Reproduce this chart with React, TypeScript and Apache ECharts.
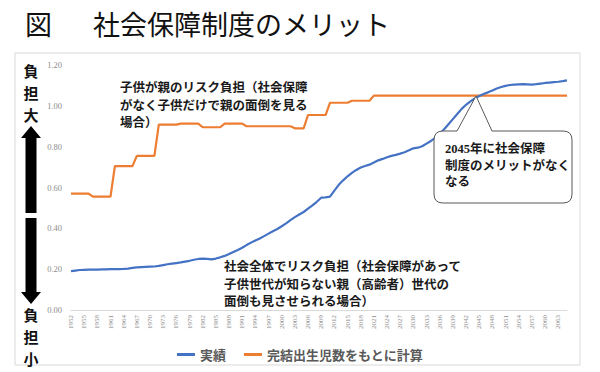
import React, { useEffect, useRef } from "react";
import * as echarts from "echarts";

const years: string[] = [];
for (let y = 1952; y <= 2065; y++) years.push(String(y));

const actual: number[] = [
  0.190, 0.193, 0.196, 0.197, 0.198, 0.198, 0.198, 0.199, 0.199, 0.200, // 1952-1961
  0.200, 0.200, 0.201, 0.203, 0.206, 0.209, 0.210, 0.211, 0.212, 0.213, // 1962-1971
  0.216, 0.220, 0.224, 0.227, 0.230, 0.233, 0.237, 0.241, 0.246, 0.250, // 1972-1981
  0.252, 0.250, 0.248, 0.252, 0.258, 0.265, 0.274, 0.284, 0.294, 0.305, // 1982-1991
  0.318, 0.330, 0.340, 0.350, 0.362, 0.374, 0.386, 0.397, 0.410, 0.424, // 1992-2001
  0.440, 0.455, 0.468, 0.480, 0.496, 0.512, 0.530, 0.550, 0.552, 0.555, // 2002-2011
  0.585, 0.613, 0.635, 0.655, 0.672, 0.686, 0.698, 0.705, 0.712, 0.722, // 2012-2021
  0.733, 0.740, 0.748, 0.755, 0.760, 0.766, 0.773, 0.782, 0.792, 0.795, // 2022-2031
  0.802, 0.815, 0.828, 0.843, 0.862, 0.885, 0.910, 0.935, 0.960, 0.985, // 2032-2041
  1.005, 1.022, 1.036, 1.048, 1.058, 1.066, 1.075, 1.085, 1.092, 1.098, // 2042-2051
  1.102, 1.104, 1.105, 1.106, 1.105, 1.104, 1.106, 1.109, 1.112, 1.114, // 2052-2061
  1.116, 1.118, 1.121, 1.125, // 2062-2065
];

const completed: number[] = [
  0.570, 0.570, 0.570, 0.570, 0.570, 0.555, 0.555, 0.555, 0.555, 0.555, // 1952-1961
  0.705, 0.705, 0.705, 0.705, 0.705, 0.755, 0.755, 0.755, 0.755, 0.755, // 1962-1971
  0.908, 0.908, 0.908, 0.908, 0.908, 0.913, 0.913, 0.913, 0.913, 0.913, // 1972-1981
  0.895, 0.895, 0.895, 0.895, 0.895, 0.913, 0.913, 0.913, 0.913, 0.913, // 1982-1991
  0.900, 0.900, 0.900, 0.900, 0.900, 0.900, 0.900, 0.900, 0.900, 0.900, // 1992-2001
  0.900, 0.890, 0.890, 0.890, 0.955, 0.955, 0.955, 0.955, 0.955, 1.015, // 2002-2011
  1.015, 1.015, 1.015, 1.015, 1.025, 1.025, 1.025, 1.025, 1.025, 1.050, // 2012-2021
  1.050, 1.050, 1.050, 1.050, 1.050, 1.050, 1.050, 1.050, 1.050, 1.050, // 2022-2031
  1.050, 1.050, 1.050, 1.050, 1.050, 1.050, 1.050, 1.050, 1.050, 1.050, // 2032-2041
  1.050, 1.050, 1.050, 1.050, 1.050, 1.050, 1.050, 1.050, 1.050, 1.050, // 2042-2051
  1.050, 1.050, 1.050, 1.050, 1.050, 1.050, 1.050, 1.050, 1.050, 1.050, // 2052-2061
  1.050, 1.050, 1.050, 1.050, // 2062-2065
];

const seriesNames = ["実績", "完結出生児数をもとに計算"];
const titleText = "社会保障制度のメリット";
const sideTop = ["負", "担", "大"];
const sideBottom = ["負", "担", "小"];
const noteTop = ["子供が親のリスク負担（社会保障", "がなく子供だけで親の面倒を見る", "場合）"];
const noteBottom = ["社会全体でリスク負担（社会保障があって", "子供世代が知らない親（高齢者）世代の", "面倒も見させられる場合）"];
const noteCallout = ["2045年に社会保障", "制度のメリットがなく", "なる"];

const CJK = "'Noto Sans CJK JP', 'Noto Sans', sans-serif";
const SERIF = "'Liberation Serif', 'DejaVu Serif', serif";

echarts.graphic.registerShape(
  "callout",
  echarts.graphic.extendPath(
    "M443,131 L457,131 L476,96 L492,131 L563,131 Q572,131 572,140 L572,194 Q572,203 563,203 L443,203 Q434,203 434,194 L434,140 Q434,131 443,131 Z",
    {}
  ) as any
);

function sideChars(chars: string[], centers: number[]) {
  return chars.map((c, i) => ({
    type: "text",
    x: 31,
    y: centers[i],
    style: {
      text: c,
      font: `bold 15px ${CJK}`,
      lineHeight: 15,
      fill: "#111",
      textAlign: "center",
      textVerticalAlign: "middle",
    },
  }));
}

function lines(texts: string[], x: number, y0: number, step: number, family: string, z = 1) {
  return texts.map((t, i) => ({
    type: "text",
    x,
    y: y0 + i * step,
    z,
    style: {
      text: t,
      font: `bold 12.5px ${family}`,
      lineHeight: 13,
      fill: "#1a1a1a",
      textVerticalAlign: "middle",
    },
  }));
}

export default function App() {
  const ref = useRef<HTMLDivElement>(null);
  useEffect(() => {
    document.body.style.margin = "0";
    const chart = echarts.init(ref.current!, null, { renderer: "svg" });
    chart.setOption({
      animation: false,
      backgroundColor: "#ffffff",
      grid: { left: 71, right: 33, top: 65, bottom: 62, containLabel: false },
      legend: {
        left: "center",
        top: 343,
        icon: "rect",
        itemWidth: 18,
        itemHeight: 3,
        itemGap: 18,
        textStyle: { fontFamily: CJK, fontSize: 13, fontWeight: "bold", color: "#595959" },
        data: seriesNames,
      },
      xAxis: {
        type: "category",
        data: years,
        boundaryGap: false,
        axisLine: { lineStyle: { color: "#d9d9d9", width: 1 } },
        axisTick: { show: false },
        axisLabel: {
          interval: 2,
          rotate: 90,
          fontSize: 7,
          fontFamily: SERIF,
          color: "#8c8c8c",
          margin: 5,
        },
      },
      yAxis: {
        type: "value",
        min: 0,
        max: 1.2,
        interval: 0.2,
        axisLine: { show: false },
        axisTick: { show: false },
        splitLine: { show: false },
        axisLabel: {
          fontSize: 8.5,
          fontFamily: SERIF,
          color: "#8c8c8c",
          margin: 9,
          formatter: (v: number) => v.toFixed(2),
        },
      },
      series: [
        {
          name: seriesNames[0],
          type: "line",
          data: actual,
          symbol: "none",
          lineStyle: { color: "#4472C4", width: 2.2 },
          itemStyle: { color: "#4472C4" },
          z: 3,
        },
        {
          name: seriesNames[1],
          type: "line",
          data: completed,
          symbol: "none",
          lineStyle: { color: "#ED7D31", width: 2.2 },
          itemStyle: { color: "#ED7D31" },
          z: 2,
        },
      ],
      graphic: [
        {
          type: "rect",
          shape: { x: 15, y: 53, width: 565, height: 312 },
          style: { fill: "none", stroke: "#d9d9d9", lineWidth: 1 },
          z: -1,
          silent: true,
        },
        {
          type: "text",
          x: 25,
          y: 23,
          style: { text: "図", font: `normal 27px ${CJK}`, fill: "#111", textVerticalAlign: "middle" },
        },
        {
          type: "text",
          x: 93,
          y: 23,
          style: { text: titleText, font: `normal 27px ${CJK}`, fill: "#111", textVerticalAlign: "middle" },
        },
        ...sideChars(sideTop, [70, 92, 114]),
        {
          type: "polygon",
          shape: {
            points: [
              [31, 126], [41, 138], [36.5, 138], [36.5, 213], [25.5, 213], [25.5, 138], [21, 138],
            ],
          },
          style: { fill: "#000" },
        },
        {
          type: "polygon",
          shape: {
            points: [
              [25.5, 218], [36.5, 218], [36.5, 292], [41, 292], [31, 304], [21, 292], [25.5, 292],
            ],
          },
          style: { fill: "#000" },
        },
        ...sideChars(sideBottom, [314, 336, 358]),
        ...lines(noteTop, 120, 86.7, 17.5, CJK),
        ...lines(noteBottom, 224, 265.5, 17.5, CJK),
        {
          type: "callout",
          x: 0,
          y: 0,
          style: { fill: "#ffffff", stroke: "#595959", lineWidth: 1 },
          z: 10,
        },
        ...lines(noteCallout, 445, 149.3, 16.2, `${SERIF}, ${CJK}`, 11),
      ],
    });
    return () => chart.dispose();
  }, []);
  return <div ref={ref} style={{ width: 600, height: 372 }} />;
}
